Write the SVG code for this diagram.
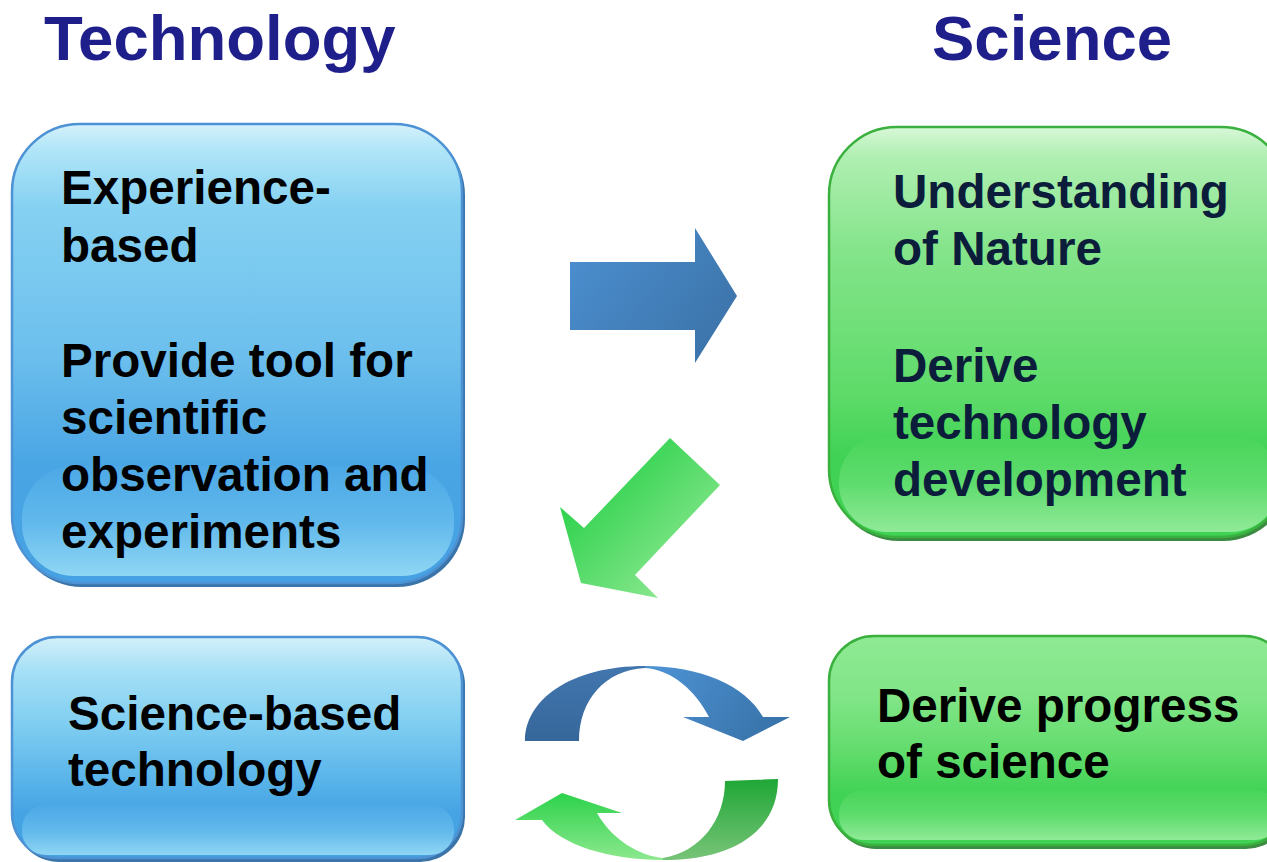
<svg xmlns="http://www.w3.org/2000/svg" width="1267" height="862" viewBox="0 0 1267 862">
<style>
.title{font-family:"Liberation Sans",Arial,sans-serif;font-weight:bold;font-size:63.5px;fill:#1f1f8c}
.lbl{font-family:"Liberation Sans",Arial,sans-serif;font-weight:bold;font-size:47.6px;fill:#000}
.lbln{font-family:"Liberation Sans",Arial,sans-serif;font-weight:bold;font-size:47.6px;fill:#0b1d3a}
.bshadow{fill:#3a74a8}
.gshadow{fill:#3b8c42}
.bstroke{stroke:#4d92d4;stroke-width:2.5}
.gstroke{stroke:#3ab03e;stroke-width:2.5}
</style>
<defs>
<linearGradient id="blueBig" x1="0" y1="124" x2="0" y2="584" gradientUnits="userSpaceOnUse">
<stop offset="0" stop-color="#d6f2fb"/>
<stop offset="0.05" stop-color="#b3e6f8"/>
<stop offset="0.18" stop-color="#85d1f2"/>
<stop offset="0.5" stop-color="#6cbfed"/>
<stop offset="0.74" stop-color="#4aa5e4"/>
<stop offset="1" stop-color="#45a1e3"/>
</linearGradient>
<linearGradient id="blueSmall" x1="0" y1="637" x2="0" y2="859" gradientUnits="userSpaceOnUse">
<stop offset="0" stop-color="#d3f0fa"/>
<stop offset="0.15" stop-color="#a6e0f6"/>
<stop offset="0.4" stop-color="#7ecdf1"/>
<stop offset="0.65" stop-color="#58b3e9"/>
<stop offset="0.8" stop-color="#45a2e3"/>
<stop offset="1" stop-color="#45a2e3"/>
</linearGradient>
<linearGradient id="greenBig" x1="0" y1="127" x2="0" y2="539" gradientUnits="userSpaceOnUse">
<stop offset="0" stop-color="#d8f8d8"/>
<stop offset="0.07" stop-color="#b0efb2"/>
<stop offset="0.3" stop-color="#84e48a"/>
<stop offset="0.65" stop-color="#5edb69"/>
<stop offset="0.8" stop-color="#40d255"/>
<stop offset="1" stop-color="#40d255"/>
</linearGradient>
<linearGradient id="greenSmall" x1="0" y1="636" x2="0" y2="846" gradientUnits="userSpaceOnUse">
<stop offset="0" stop-color="#8fea94"/>
<stop offset="0.3" stop-color="#80e586"/>
<stop offset="0.55" stop-color="#62dc6c"/>
<stop offset="0.75" stop-color="#40d255"/>
<stop offset="1" stop-color="#40d255"/>
</linearGradient>
<linearGradient id="glossB" x1="0" y1="0" x2="0" y2="1">
<stop offset="0" stop-color="#4da8e6"/>
<stop offset="0.5" stop-color="#60b8eb"/>
<stop offset="1" stop-color="#8fd6f4"/>
</linearGradient>
<linearGradient id="glossG" x1="0" y1="0" x2="0" y2="1">
<stop offset="0" stop-color="#48d55a"/>
<stop offset="0.5" stop-color="#5edc6d"/>
<stop offset="1" stop-color="#90ea97"/>
</linearGradient>
<linearGradient id="arrowBlue" x1="570" y1="230" x2="737" y2="363" gradientUnits="userSpaceOnUse">
<stop offset="0" stop-color="#4c90d2"/>
<stop offset="1" stop-color="#3a70a4"/>
</linearGradient>
<linearGradient id="arrowGreen" x1="590" y1="480" x2="690" y2="580" gradientUnits="userSpaceOnUse">
<stop offset="0" stop-color="#2fd24e"/>
<stop offset="1" stop-color="#8ee891"/>
</linearGradient>
<linearGradient id="cycBL" x1="0" y1="666" x2="0" y2="741" gradientUnits="userSpaceOnUse">
<stop offset="0" stop-color="#4276ae"/>
<stop offset="1" stop-color="#36679b"/>
</linearGradient>
<linearGradient id="cycBR" x1="660" y1="666" x2="760" y2="741" gradientUnits="userSpaceOnUse">
<stop offset="0" stop-color="#4c91d2"/>
<stop offset="1" stop-color="#3974ab"/>
</linearGradient>
<linearGradient id="cycGL" x1="0" y1="793" x2="0" y2="860" gradientUnits="userSpaceOnUse">
<stop offset="0" stop-color="#2cd24a"/>
<stop offset="1" stop-color="#8ce88e"/>
</linearGradient>
<linearGradient id="cycGR" x1="0" y1="779" x2="0" y2="860" gradientUnits="userSpaceOnUse">
<stop offset="0" stop-color="#1fa736"/>
<stop offset="1" stop-color="#78c478"/>
</linearGradient>
</defs>

<g id="titles">
<text class="title" x="44" y="60">Technology</text>
<text class="title" x="932" y="60">Science</text>
</g>

<g id="node-experience">
<rect class="bshadow" x="14" y="127" width="451" height="460" rx="68"/>
<rect class="bstroke" x="12" y="124" width="450" height="459" rx="68" fill="url(#blueBig)"/>
<rect x="22" y="466" width="432" height="110" rx="52" fill="url(#glossB)"/>
<text class="lbl" x="61" y="204">Experience-</text>
<text class="lbl" x="61" y="262">based</text>
<text class="lbl" x="61" y="377">Provide tool for</text>
<text class="lbl" x="61" y="434">scientific</text>
<text class="lbl" x="61" y="491">observation and</text>
<text class="lbl" x="61" y="548">experiments</text>
</g>

<g id="node-understanding">
<rect class="gshadow" x="831" y="130" width="460" height="411" rx="68"/>
<rect class="gstroke" x="829" y="127" width="460" height="410" rx="68" fill="url(#greenBig)"/>
<rect x="839" y="434" width="440" height="98" rx="48" fill="url(#glossG)"/>
<text class="lbln" x="893" y="208">Understanding</text>
<text class="lbln" x="893" y="265">of Nature</text>
<text class="lbln" x="893" y="382">Derive</text>
<text class="lbln" x="893" y="439">technology</text>
<text class="lbln" x="893" y="496">development</text>
</g>

<g id="node-science-based">
<rect class="bshadow" x="14" y="640" width="451" height="222" rx="45"/>
<rect class="bstroke" x="12" y="637" width="450" height="221" rx="45" fill="url(#blueSmall)"/>
<rect x="22" y="805" width="432" height="50" rx="24" fill="url(#glossB)"/>
<text class="lbl" x="68" y="730">Science-based</text>
<text class="lbl" x="68" y="786">technology</text>
</g>

<g id="node-progress">
<rect class="gshadow" x="831" y="639" width="460" height="210" rx="45"/>
<rect class="gstroke" x="829" y="636" width="460" height="209" rx="45" fill="url(#greenSmall)"/>
<rect x="839" y="790" width="440" height="50" rx="24" fill="url(#glossG)"/>
<text class="lbl" x="877" y="722">Derive progress</text>
<text class="lbl" x="877" y="778">of science</text>
</g>

<g id="connectors">
<polygon points="570,262 695,262 695,228 737,296 695,363 695,330 570,330" fill="url(#arrowBlue)"/>
<polygon points="670,438 720,485 635,575 658,598 581,583 560,507 584,528" fill="url(#arrowGreen)"/>
<path d="M525,741 C525,700 570,666 645,666 L645,668 C605,670 579,700 579,741 Z" fill="url(#cycBL)"/>
<path d="M645,666 C700,666 745,685 763,717 L790,717 L743,741 L683,717 L709,717 C695,690 672,670 645,668 Z" fill="url(#cycBR)"/>
<path d="M663,860 C610,860 560,845 542,820 L515,820 L562,793 L622,813 L597,813 C612,840 640,856 663,858 Z" fill="url(#cycGL)"/>
<path d="M778,779 C778,830 735,860 663,860 L663,858 C700,852 725,820 725,781 Z" fill="url(#cycGR)"/>
</g>
</svg>
